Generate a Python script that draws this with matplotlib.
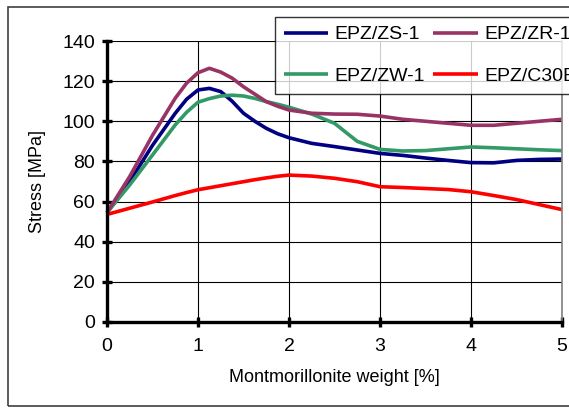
import numpy as np
import matplotlib
matplotlib.use('Agg')
from matplotlib import pyplot as plt
from matplotlib.patches import Rectangle

plt.rcParams['font.family'] = ['Liberation Sans', 'DejaVu Sans']

# montmorillonite weight [%]
poids = [0, 0.25, 0.5, 0.75, 0.875, 1, 1.125, 1.25, 1.375, 1.5, 1.625, 1.75,
         1.875, 2, 2.25, 2.5, 2.75, 3, 3.25, 3.5, 3.75, 4, 4.25, 4.5, 4.75, 5]

# stress [MPa]
zs1 = [54.5, 70, 88, 104, 111, 115.6, 116.4, 114.8, 110, 104, 100, 96.5,
       93.8, 91.8, 89, 87.4, 85.7, 84, 83, 81.7, 80.5, 79.4, 79.3, 80.5,
       81, 81.2]
zr1 = [54.5, 72.5, 93, 111.5, 119, 124.2, 126.4, 124.5, 121.5, 117.2, 113.5,
       109.8, 107.5, 105.6, 104, 103.6, 103.5, 102.6, 101, 100, 99, 98, 98,
       99, 100, 101]
zw1 = [54.5, 68.3, 83.2, 98.2, 104.5, 109.5, 111.3, 112.6, 113, 112.6, 111.4,
       109.8, 108.5, 107, 103.6, 99, 90, 86, 85.2, 85.4, 86.3, 87.2, 86.8,
       86.3, 85.8, 85.4]
c30b = [53.6, 56.7, 59.8, 63, 64.5, 65.9, 66.9, 67.9, 68.9, 69.9, 70.9, 71.8,
        72.6, 73.2, 72.7, 71.6, 69.9, 67.4, 67, 66.5, 66, 64.9, 63, 61,
        58.5, 56]

series = [('EPZ/ZS-1', zs1, '#000080'),
          ('EPZ/ZW-1', zw1, '#339966'),
          ('EPZ/ZR-1', zr1, '#993366'),
          ('EPZ/C30B', c30b, '#FF0000')]

fig = plt.figure(figsize=(5.69, 4.08), dpi=100)
# cadre exterieur
fig.patches.append(Rectangle((8/569, 1 - 406/408), 1.0, 399/408,
                             transform=fig.transFigure, fill=False,
                             edgecolor='#404040', linewidth=1.2))

ax = fig.add_axes([107/569, 1 - 322/408, 455/569, 281/408])
for nom, val, col in series:
    ax.plot(poids, val, color=col, linewidth=2.6, label=nom,
            solid_capstyle='butt', solid_joinstyle='round', clip_on=False)

ax.set_xlim(0, 5)
ax.set_ylim(0, 140)
ax.set_xticks(range(0, 6))
ax.set_yticks(range(0, 141, 20))
ax.grid(True, color='black', linewidth=0.8)
ax.set_axisbelow(True)
ax.spines['top'].set_visible(False)
ax.spines['right'].set_color('#808080')
ax.spines['right'].set_linewidth(1.2)
ax.spines['left'].set_linewidth(2.4)
ax.spines['bottom'].set_linewidth(2.4)
ax.tick_params(axis='both', direction='inout', length=7, width=2.4,
               labelsize=14, pad=8)
ax.tick_params(axis='y', pad=5)

ax.set_xlabel('Montmorillonite weight [%]', fontsize=13, labelpad=10)
ax.set_ylabel('Stress [MPa]', fontsize=13, labelpad=12)

leg = fig.legend(loc='upper left', bbox_to_anchor=(275/569, 1 - 17/408),
                 bbox_transform=fig.transFigure, ncol=2, fontsize=14,
                 frameon=True, fancybox=False, shadow=False,
                 handlelength=2.3, handletextpad=0.32, columnspacing=0.4,
                 labelspacing=1.25, borderpad=0.45, borderaxespad=0)
leg.get_frame().set_edgecolor('black')
leg.get_frame().set_linewidth(1.0)
for h in leg.get_lines():
    h.set_linewidth(2.6)

fig.savefig('out.png', dpi=100)
